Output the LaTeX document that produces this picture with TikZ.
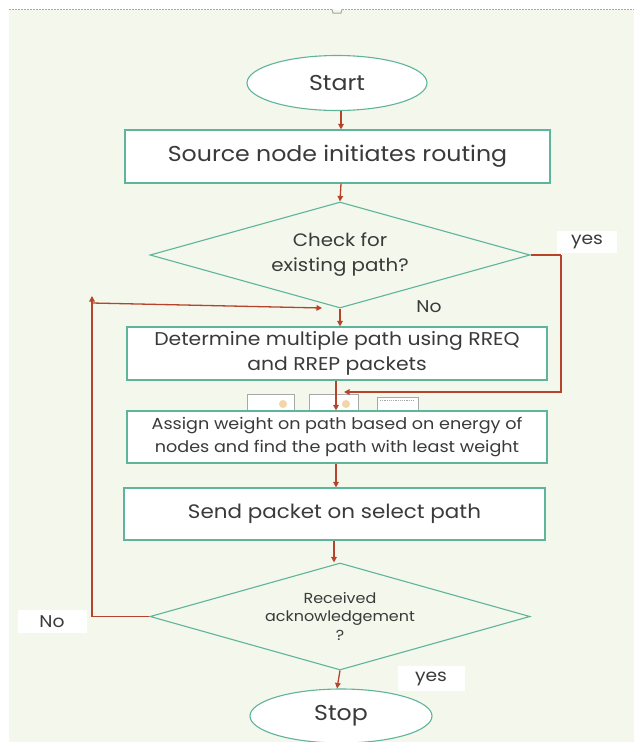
\documentclass[tikz,border=0pt]{standalone}
\usepackage{fontspec}
\setmainfont{Poppins}[FakeStretch=1.1]
\usetikzlibrary{shapes.geometric,arrows.meta}
\definecolor{bgc}{HTML}{F4F7EB}
\definecolor{grn}{HTML}{5FB49C}
\definecolor{arrc}{HTML}{B5442A}
\definecolor{txtc}{HTML}{3A3A3A}
\definecolor{icong}{HTML}{A8A8A8}
\definecolor{dotc}{HTML}{F2D6A8}
\tikzset{
  proc/.style={draw=grn, line width=1.1pt, fill=white, rectangle, align=center, text=txtc, inner sep=2pt},
  term/.style={draw=grn, line width=1.1pt, fill=white, ellipse, text=txtc, inner sep=0pt},
  decide/.style={draw=grn, line width=1.1pt, diamond, align=center, text=txtc, inner sep=0pt, aspect=3.6},
  arr/.style={draw=arrc, line width=1.3pt, -{Triangle[length=5.5pt,width=5.5pt]}},
  ln/.style={draw=arrc, line width=1.3pt},
  lbl/.style={fill=white, text=txtc, inner sep=0pt, font=\fontsize{17}{19}\selectfont},
  icon/.style={draw=icong, line width=0.6pt}
}
\begin{document}
\begin{tikzpicture}[x=1pt,y=-1pt]
\useasboundingbox (0,0) rectangle (634,742);
\fill[white] (0,0) rectangle (634,742);
\fill[bgc] (9,10) rectangle (634,742);
\draw[gray!70, line width=1pt, dash pattern=on 2pt off 1pt] (9,9.5) -- (332,9.5);
\draw[gray!70, line width=1pt, dash pattern=on 2pt off 1pt] (342,9.5) -- (634,9.5);
\draw[gray!70, line width=1pt] (332,9.5) -- (333,13) -- (341,13) -- (342,9.5);

% nodes
\node[term, minimum width=180pt, minimum height=55pt, font=\fontsize{21.5}{24}\selectfont] (start) at (337,83) {Start};
\node[proc, minimum width=425pt, minimum height=53pt, font=\fontsize{21.5}{24}\selectfont] (b1) at (337.5,156.5) {Source node initiates routing};
\node[decide, minimum width=380pt, minimum height=106pt, font=\fontsize{18}{25}\selectfont] (d1) at (340,255) {Check for\\existing path?};
\node[proc, minimum width=420pt, minimum height=53pt, font=\fontsize{18.5}{25}\selectfont] (b2) at (337,353.5) {Determine multiple path using RREQ\\and RREP packets};

% small icons between boxes
\draw[icon, fill=white] (247,411) -- (247,394) -- (294,394) -- (294,411);
\fill[dotc] (283,404) circle (4pt);
\draw[icon, fill=white] (309,411) -- (309,394) -- (358,394) -- (358,411);
\fill[dotc] (346,404) circle (4pt);
\draw[icon, fill=white] (377,411) -- (377,397) -- (418,397) -- (418,411);
\draw[icon, dash pattern=on 1.2pt off 1pt] (380,400) -- (415,400);

\node[proc, minimum width=420pt, minimum height=52pt, font=\fontsize{16}{23}\selectfont] (b3) at (337,437) {Assign weight on path based on energy of\\nodes and find the path with least weight};
\node[proc, minimum width=421pt, minimum height=52pt, font=\fontsize{19.5}{22}\selectfont] (b4) at (334.5,514) {Send packet on select path};
\node[decide, minimum width=380pt, minimum height=107pt, font=\fontsize{14.5}{18.5}\selectfont] (d2) at (340,616.5) {Received\\acknowledgement\\?};
\node[term, minimum width=182pt, minimum height=54pt, font=\fontsize{21.5}{24}\selectfont] (stop) at (341,716) {Stop};

% connectors
\coordinate (s1) at (341,110.5);
\draw[arr] (start.south -| s1) -- (b1.north -| s1);
\draw[arr] (b1.south -| s1) -- (d1.north);
\draw[arr] (d1.south) -- (b2.north -| d1.south);
\coordinate (m2) at (336,380);
\draw[arr] (b2.south -| m2) -- (b3.north -| m2);
\draw[arr] (b3.south -| m2) -- (b4.north -| m2);
\coordinate (m4) at (334,540);
\draw[arr] (b4.south -| m4) -- (d2.north -| m4);
\coordinate (m5) at (337,688);
\draw[arr] (d2.south) -- (stop.north -| m5);

% yes branch of first decision
\coordinate (yc1) at (561,255);
\coordinate (yc2) at (561,392);
\coordinate (yend) at (344,392);
\draw[ln] (d1.east) -- (yc1);
\draw[arr] (yc1) -- (yc2) -- (yend);
\node[lbl, minimum width=60pt, minimum height=22pt] (yes1) at (587,242) {yes};

% No branch of second decision
\coordinate (nc1) at (92,616.5);
\coordinate (nc2) at (92,296);
\coordinate (nc3) at (92,303);
\coordinate (nend) at (322,308);
\draw[arr] (d2.west) -- (nc1) -- (nc2);
\draw[arr] (nc3) -- (nend);
\node[lbl, minimum width=69pt, minimum height=23pt] (no2) at (52,621.5) {No};

% labels
\node[text=txtc, font=\fontsize{17}{19}\selectfont] (no1) at (429,307) {No};
\node[lbl, minimum width=67pt, minimum height=25pt] (yes2) at (431,678.5) {yes};
\end{tikzpicture}
\end{document}
